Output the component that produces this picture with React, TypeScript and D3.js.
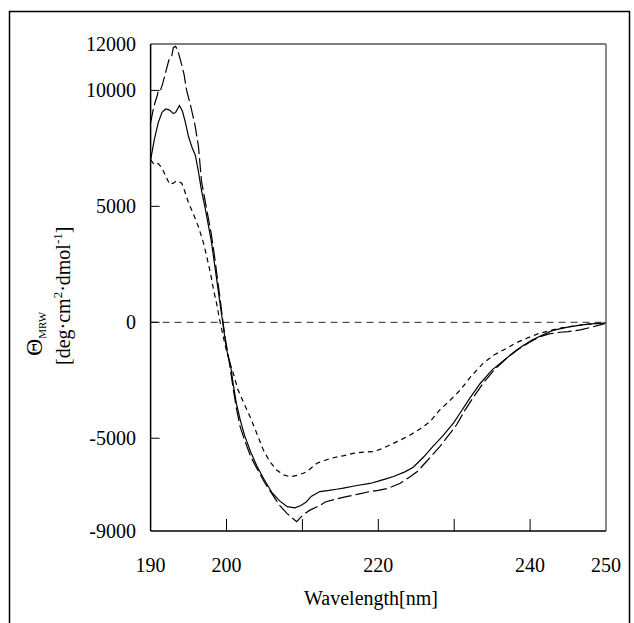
import React from 'react';
import * as d3 from 'd3';

// Wavelength (nm) and mean residue ellipticity
const solidNm = [190, 190.5, 191, 191.5, 192, 192.5, 193, 193.3, 193.8, 194.2, 194.6, 195, 195.5, 195.9, 196.3, 196.7, 197.2, 197.6, 198, 198.3, 198.6, 198.9, 199.2, 199.5, 199.8, 200.1, 200.5, 200.9, 201.3, 201.8, 202.4, 203.2, 204, 205, 206, 207, 208, 209, 209.8, 210.5, 211.2, 212.3, 213.5, 214.5, 215.4, 217, 218.9, 220, 221, 222, 223.5, 224.6, 226, 227.2, 228.5, 229.9, 230.8, 232, 233.4, 235, 236.9, 238, 239.1, 240.2, 241.3, 243, 244.8, 246.6, 248, 249.6, 250];
const solidVal = [7000, 7900, 8600, 9050, 9200, 9150, 9000, 9050, 9350, 9100, 8600, 8000, 7500, 7200, 6500, 5700, 4900, 4200, 3500, 2800, 2100, 1400, 700, 0, -700, -1300, -1800, -2700, -3500, -4200, -4900, -5600, -6200, -6800, -7350, -7700, -7950, -8000, -7900, -7750, -7500, -7300, -7250, -7200, -7150, -7050, -6950, -6850, -6750, -6650, -6450, -6250, -5800, -5350, -4900, -4350, -3900, -3300, -2650, -2050, -1550, -1250, -1000, -780, -600, -350, -220, -120, -70, -40, -20];

const longNm = [190, 190.3, 190.6, 190.9, 191, 191.3, 191.6, 192, 192.4, 192.8, 193, 193.3, 193.6, 194.1, 194.4, 194.75, 195.3, 195.85, 196.3, 196.7, 197.2, 197.6, 198, 198.4, 198.8, 199.2, 199.5, 199.8, 200.1, 200.5, 200.9, 201.3, 201.8, 202.4, 203.2, 204, 205, 206, 207, 208, 208.7, 209.25, 209.8, 210.3, 211, 212.3, 213, 214.5, 215.8, 217.5, 218.9, 220, 221.3, 222.9, 224, 225.1, 226.5, 228.1, 229.2, 230.3, 231.4, 232.6, 233.8, 235.3, 236.9, 238.5, 240, 241.3, 242.5, 244, 245, 246.6, 248, 249.6, 250];
const longVal = [8600, 9100, 9500, 9800, 10000, 10000, 10300, 10800, 11300, 11500, 11850, 11900, 11700, 11100, 10700, 10000, 9300, 8500, 7600, 6100, 5200, 4500, 3800, 2900, 1900, 900, 100, -600, -1200, -2000, -2900, -3700, -4500, -5100, -5800, -6300, -6900, -7400, -7900, -8250, -8450, -8600, -8400, -8250, -8100, -7900, -7750, -7620, -7520, -7400, -7300, -7250, -7160, -6940, -6700, -6450, -5950, -5360, -4900, -4430, -3800, -3200, -2630, -2050, -1550, -1150, -850, -620, -500, -430, -400, -330, -220, -80, -40];

const shortNm = [190, 190.5, 191, 191.5, 192, 192.5, 193, 193.4, 193.8, 194.1, 194.5, 195, 195.6, 196.3, 196.9, 197.4, 197.9, 198.3, 198.7, 199.1, 199.5, 199.9, 200.4, 200.9, 201.5, 202.3, 203.1, 204, 204.85, 205.7, 206.6, 207.5, 208.4, 209.3, 210.1, 210.6, 211.9, 213, 214.1, 215.5, 216.7, 218, 219.3, 220.5, 221.5, 222.8, 224.2, 225.5, 226.8, 228.1, 229.5, 230.8, 232.3, 233.8, 235.3, 236.9, 238.2, 239.55, 241, 242.6, 244, 245.7, 247.5, 249.6, 250];
const shortVal = [7000, 6800, 6850, 6650, 6300, 5950, 6000, 6100, 6050, 6000, 5650, 5150, 4700, 4120, 3500, 2830, 2100, 1390, 800, 100, -500, -1100, -1700, -2200, -2900, -3500, -4070, -4800, -5510, -6000, -6370, -6580, -6660, -6600, -6510, -6440, -6080, -5950, -5840, -5750, -5650, -5600, -5580, -5450, -5290, -5100, -4860, -4600, -4290, -3780, -3350, -2920, -2300, -1770, -1400, -1120, -880, -690, -500, -360, -250, -160, -90, -40, -30];

const xTickMarks = [200, 210, 220, 230, 240];
const xTickLabels = [190, 200, 220, 240, 250];
const yTickMarks = [10000, 5000, 0, -5000];
const yTickLabels = [12000, 10000, 5000, 0, -5000, -9000];

const FONT = 'Liberation Serif';

export default function App() {
  const width = 634;
  const height = 623;
  const left = 150.6, right = 606, top = 44, bottom = 531;
  const x = d3.scaleLinear().domain([190, 250]).range([left, right]);
  const y = d3.scaleLinear().domain([-9000, 12000]).range([bottom, top]);

  const line = d3.line<[number, number]>()
    .x(d => x(d[0]))
    .y(d => y(d[1]));

  const series = [
    { key: 'solid', nm: solidNm, val: solidVal, dash: undefined },
    { key: 'long', nm: longNm, val: longVal, dash: '14,4' },
    { key: 'short', nm: shortNm, val: shortVal, dash: '5,4' },
  ];

  return (
    <svg
      width={width}
      height={height}
      style={{ position: 'absolute', left: 0, top: 0, background: '#fff' }}
    >
      {/* outer frame */}
      <rect x={9.5} y={11.5} width={620} height={640} fill="none" stroke="#000" strokeWidth={1.5} />

      {/* zero line */}
      <line x1={left} x2={right} y1={y(0)} y2={y(0)} stroke="#555" strokeWidth={1.2} strokeDasharray="7,5" />

      {series.map(s => (
        <path
          key={s.key}
          d={line(s.nm.map((n, i) => [n, s.val[i]] as [number, number])) || ''}
          fill="none"
          stroke="#000"
          strokeWidth={1.2}
          strokeDasharray={s.dash}
        />
      ))}

      {/* plot box */}
      <line x1={left} x2={right} y1={top} y2={top} stroke="#000" strokeWidth={1} />
      <line x1={right} x2={right} y1={top} y2={bottom} stroke="#666" strokeWidth={1.5} />
      <line x1={left} x2={left} y1={top} y2={bottom} stroke="#000" strokeWidth={1.5} />
      <line x1={left} x2={right} y1={bottom} y2={bottom} stroke="#000" strokeWidth={1.5} />

      {xTickMarks.map(t => (
        <line key={'xt' + t} x1={x(t)} x2={x(t)} y1={bottom} y2={bottom - 12} stroke="#000" strokeWidth={1} />
      ))}
      {yTickMarks.map(t => (
        <line key={'yt' + t} x1={left} x2={left + 9} y1={y(t)} y2={y(t)} stroke="#000" strokeWidth={1} />
      ))}

      <g fontFamily={FONT} fontSize={20} fill="#000">
        {xTickLabels.map(t => (
          <text key={'xl' + t} x={x(t)} y={572} textAnchor="middle">{t}</text>
        ))}
        {yTickLabels.map(t => (
          <text key={'yl' + t} x={136} y={y(t) + 7} textAnchor="end">{t}</text>
        ))}
        <text x={371} y={605} textAnchor="middle">Wavelength[nm]</text>

        {/* y axis title */}
        <text transform="translate(42,356) rotate(-90)" fontSize={24}>
          Θ<tspan dy={4} fontSize={11}>MRW</tspan>
        </text>
        <text transform="translate(70,365) rotate(-90)">
          [deg·cm<tspan dy={-8} fontSize={13}>2</tspan>
          <tspan dy={8}>·dmol</tspan>
          <tspan dy={-8} fontSize={13}>-1</tspan>
          <tspan dy={8}>]</tspan>
        </text>
      </g>
    </svg>
  );
}
